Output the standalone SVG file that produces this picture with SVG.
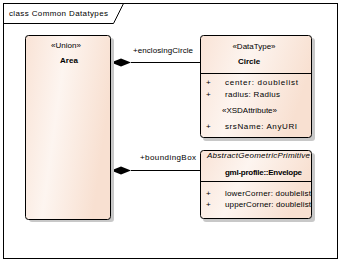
<svg xmlns="http://www.w3.org/2000/svg" width="341" height="263" viewBox="0 0 341 263">
<style>
text{font-family:"Liberation Sans",Arial,sans-serif;font-size:8px;fill:#000}
.b{font-weight:bold}
.i{font-style:italic}
.m{text-anchor:middle}
.box{fill:url(#g);stroke:#000;stroke-width:1}
.sh{fill:#c8c8c8}
.ln{stroke:#000;stroke-width:1;fill:none}
</style>
<defs>
<linearGradient id="g" x1="0" y1="0" x2="1" y2="0.3">
<stop offset="0" stop-color="#f9e3d6"/>
<stop offset="0.45" stop-color="#fdf5f0"/>
<stop offset="1" stop-color="#f8e0d1"/>
</linearGradient>
</defs>
<g id="frame">
<rect x="3.5" y="3.5" width="334" height="255" fill="#fff" stroke="#000"/>
<path class="ln" d="M3.5 23.5H113.5L123.5 3.5"/>
<text x="9" y="16" textLength="99" lengthAdjust="spacing">class Common Datatypes</text>
</g>
<g id="connectors">
<path class="ln" d="M131 62.5H200"/>
<polygon points="111,62.5 121,58.5 131,62.5 121,66.5" fill="#000"/>
<text x="133" y="53" textLength="60">+enclosingCircle</text>
<path class="ln" d="M131 170.5H200"/>
<polygon points="111,170.5 121,166.5 131,170.5 121,174.5" fill="#000"/>
<text x="140" y="160" textLength="56">+boundingBox</text>
</g>
<g id="Area">
<rect class="sh" x="29" y="38" width="85" height="184" rx="3"/>
<rect class="box" x="25.5" y="35.5" width="85" height="184" rx="3"/>
<text class="m" x="66" y="48">«Union»</text>
<text class="m b" x="69" y="63">Area</text>
</g>
<g id="Circle">
<rect class="sh" x="203" y="38" width="112" height="103" rx="3"/>
<rect class="box" x="200.5" y="35.5" width="111" height="102" rx="3"/>
<path class="ln" d="M200.5 73.5H311.5"/>
<text class="m" x="254" y="49">«DataType»</text>
<text class="m b" x="249" y="64">Circle</text>
<text x="206" y="85">+</text>
<text x="225" y="85" textLength="73">center: doublelist</text>
<text x="206" y="97">+</text>
<text x="225" y="97" textLength="55">radius: Radius</text>
<text x="222" y="113" textLength="55">«XSDAttribute»</text>
<text x="206" y="129">+</text>
<text x="225" y="129" textLength="72">srsName: AnyURI</text>
</g>
<g id="Envelope">
<rect class="sh" x="203" y="153" width="112" height="69" rx="3"/>
<rect class="box" x="200.5" y="150.5" width="111" height="68" rx="3"/>
<path class="ln" d="M200.5 181.5H311.5"/>
<text class="i" x="207" y="158" textLength="103">AbstractGeometricPrimitive</text>
<text class="b" x="225" y="175" textLength="77">gml-profile::Envelope</text>
<text x="206" y="196">+</text>
<text x="225" y="196" textLength="86">lowerCorner: doublelist</text>
<text x="206" y="207">+</text>
<text x="225" y="207" textLength="86">upperCorner: doublelist</text>
</g>
</svg>
